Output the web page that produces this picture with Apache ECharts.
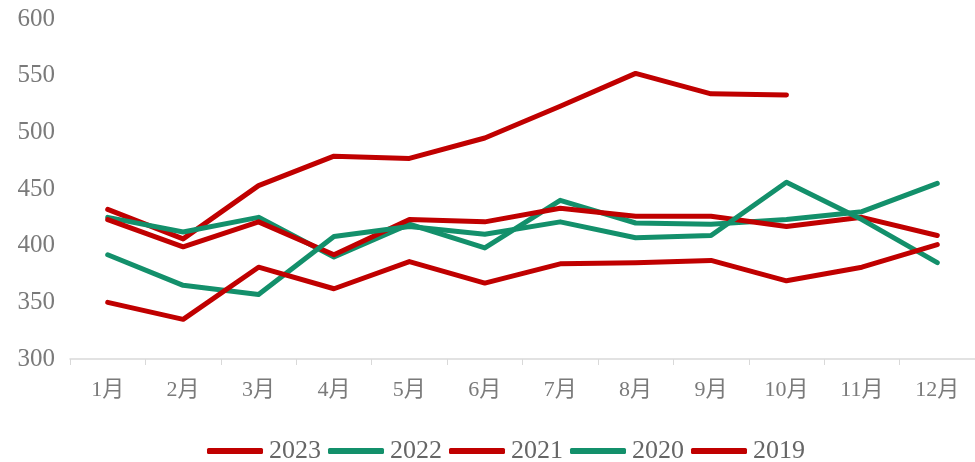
<!DOCTYPE html>
<html>
<head>
<meta charset="utf-8">
<script src="https://cdn.jsdelivr.net/npm/echarts@6/dist/echarts.min.js"></script>
<style>html,body{margin:0;padding:0;background:#fff;}#c{width:975px;height:462px;}</style>
</head>
<body>
<div id="c"></div>
<script>
var months = ['1月','2月','3月','4月','5月','6月','7月','8月','9月','10月','11月','12月'];
var s2023 = [432, 406, 453, 479, 477, 495, 523, 552, 534, 533];
var s2022 = [425, 412, 425, 390, 419, 398, 440, 420, 419, 423, 430, 455];
var s2021 = [423, 399, 421, 392, 423, 421, 433, 426, 426, 417, 425, 409];
var s2020 = [392, 365, 357, 408, 417, 410, 421, 407, 409, 456, 423, 385];
var s2019 = [350, 335, 381, 362, 386, 367, 384, 385, 387, 369, 381, 401];
var yTicks = [300, 350, 400, 450, 500, 550, 600];

var RED = '#C00000', GREEN = '#13906B';
var FONT = "'Liberation Serif','Noto Sans CJK SC',serif";
function mk(name, data, color) {
  return {
    name: name, type: 'line', data: data, symbol: 'none', color: color,
    lineStyle: { width: 5, color: color, cap: 'round', join: 'round' },
    animation: false
  };
}
var chart = echarts.init(document.getElementById('c'));
chart.setOption({
  animation: false,
  grid: { left: 70, right: -3, top: 19, bottom: 103 },
  legend: {
    bottom: -7, left: 202,
    itemWidth: 56, itemHeight: 6, itemGap: 7,
    icon: 'roundRect',
    textStyle: { fontFamily: FONT, fontSize: 26, color: '#666666', padding: [0, 0, 0, 1] },
    data: ['2023','2022','2021','2020','2019']
  },
  xAxis: {
    type: 'category', data: months, boundaryGap: true,
    axisLine: { lineStyle: { color: '#D9D9D9', width: 1.5 } },
    axisTick: { show: true, length: 6, lineStyle: { color: '#D9D9D9' } },
    axisLabel: { fontFamily: FONT, fontSize: 22, color: '#7a7a7a', margin: 20 }
  },
  yAxis: {
    type: 'value', min: yTicks[0], max: yTicks[yTicks.length-1], interval: 50,
    axisLine: { show: false }, axisTick: { show: false },
    splitLine: { show: false },
    axisLabel: { fontFamily: FONT, fontSize: 25, color: '#7a7a7a', margin: 15 }
  },
  series: [
    mk('2023', s2023, RED),
    mk('2022', s2022, GREEN),
    mk('2021', s2021, RED),
    mk('2020', s2020, GREEN),
    mk('2019', s2019, RED)
  ]
});
</script>
</body>
</html>
